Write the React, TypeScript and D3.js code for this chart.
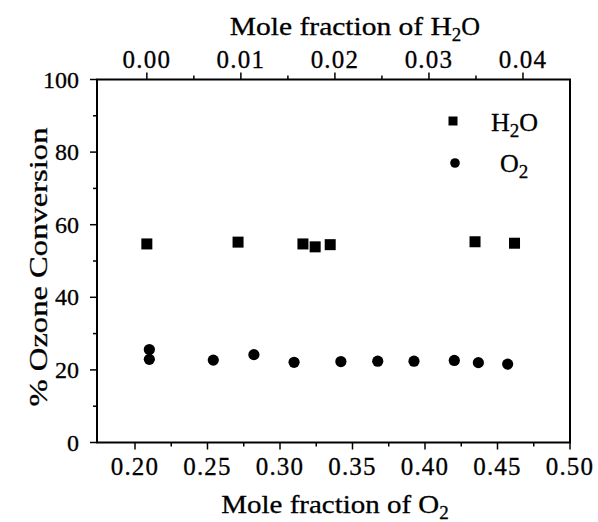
import React from "react";
import * as d3 from "d3";

const h2oX = [0.0, 0.0097, 0.0166, 0.0179, 0.0195, 0.0349, 0.0391];
const h2oY = [54.7, 55.2, 54.7, 53.9, 54.5, 55.3, 54.9];

const o2X = [0.2099, 0.2099, 0.254, 0.282, 0.3097, 0.342, 0.3674, 0.3924, 0.4202, 0.4368, 0.457];
const o2Y = [25.6, 22.9, 22.7, 24.2, 22.1, 22.3, 22.4, 22.4, 22.6, 22.0, 21.6];

const bottomTicks = [0.2, 0.25, 0.3, 0.35, 0.4, 0.45, 0.5];
const bottomMinor = [0.225, 0.275, 0.325, 0.375, 0.425, 0.475];
const topTicks = [0.0, 0.01, 0.02, 0.03, 0.04];
const topMinor = [0.005, 0.015, 0.025, 0.035];
const yTicks = [0, 20, 40, 60, 80, 100];
const yMinor = [10, 30, 50, 70, 90];

const W = 598;
const H = 522;
const L = 97;
const R = 570;
const T = 79.5;
const B = 442.5;
const FONT = "'Liberation Serif', 'Times New Roman', serif";
const TS = { stroke: "#000", strokeWidth: 0.3 };

export default function App() {
  const xO2 = d3.scaleLinear().domain([0.1738, 0.5]).range([L, R]);
  const xH2O = d3.scaleLinear().domain([-0.0053, 0.045]).range([L, R]);
  const y = d3.scaleLinear().domain([0, 100]).range([B, T]);
  const fmt2 = d3.format(".2f");
  const sq = 11;
  const cr = 5.6;

  return (
    <svg
      width={W}
      height={H}
      style={{ position: "absolute", left: 0, top: 0, background: "#fff" }}
      fontFamily={FONT}
    >
      <rect x={0} y={0} width={W} height={H} fill="#fff" />
      {/* frame */}
      <rect x={L} y={T} width={R - L} height={B - T} fill="none" stroke="#000" strokeWidth={2} />

      {/* bottom axis */}
      {bottomTicks.map((t) => (
        <g key={"b" + t}>
          <line x1={xO2(t)} x2={xO2(t)} y1={B} y2={B + 7} stroke="#000" strokeWidth={1.5} />
          <text x={xO2(t)} y={475} textAnchor="middle" fontSize={25} letterSpacing={1.2} fill="#000" {...TS}>
            {fmt2(t)}
          </text>
        </g>
      ))}
      {bottomMinor.map((t) => (
        <line key={"bm" + t} x1={xO2(t)} x2={xO2(t)} y1={B} y2={B + 4} stroke="#000" strokeWidth={1.5} />
      ))}
      <text x={335} y={513} textAnchor="middle" fontSize={26} fill="#000" {...TS}>
        <tspan textLength={218} lengthAdjust="spacingAndGlyphs">Mole fraction of O</tspan>
        <tspan fontSize={19} dy={6}>2</tspan>
      </text>

      {/* top axis */}
      {topTicks.map((t) => (
        <g key={"t" + t}>
          <line x1={xH2O(t)} x2={xH2O(t)} y1={T} y2={T - 7} stroke="#000" strokeWidth={1.5} />
          <text x={xH2O(t)} y={68} textAnchor="middle" fontSize={25} letterSpacing={1.2} fill="#000" {...TS}>
            {fmt2(t)}
          </text>
        </g>
      ))}
      {topMinor.map((t) => (
        <line key={"tm" + t} x1={xH2O(t)} x2={xH2O(t)} y1={T} y2={T - 4} stroke="#000" strokeWidth={1.5} />
      ))}
      <text x={355} y={35} textAnchor="middle" fontSize={26} fill="#000" {...TS}>
        <tspan textLength={222} lengthAdjust="spacingAndGlyphs">Mole fraction of H</tspan>
        <tspan fontSize={19} dy={6}>2</tspan>
        <tspan dy={-6}>O</tspan>
      </text>

      {/* left axis */}
      {yTicks.map((t) => (
        <g key={"y" + t}>
          <line x1={L} x2={L - 7} y1={y(t)} y2={y(t)} stroke="#000" strokeWidth={1.5} />
          <text x={79} y={y(t) + 8} textAnchor="end" fontSize={24} fill="#000" {...TS}>
            {t}
          </text>
        </g>
      ))}
      {yMinor.map((t) => (
        <line key={"ym" + t} x1={L} x2={L - 4} y1={y(t)} y2={y(t)} stroke="#000" strokeWidth={1.5} />
      ))}
      <text
        transform={`translate(47, 267) rotate(-90)`}
        textAnchor="middle"
        fontSize={26}
        fill="#000"
        textLength={279}
        lengthAdjust="spacingAndGlyphs"
        {...TS}
      >
        % Ozone Conversion
      </text>

      {/* data */}
      {h2oX.map((v, i) => (
        <rect
          key={"h" + i}
          x={xH2O(v) - sq / 2}
          y={y(h2oY[i]) - sq / 2}
          width={sq}
          height={sq}
          fill="#000"
        />
      ))}
      {o2X.map((v, i) => (
        <circle key={"o" + i} cx={xO2(v)} cy={y(o2Y[i])} r={cr} fill="#000" />
      ))}

      {/* legend */}
      <rect x={453 - 4.5} y={121 - 4.5} width={9} height={9} fill="#000" />
      <text x={491} y={131} fontSize={26} fill="#000" {...TS}>
        H<tspan fontSize={19} dy={6}>2</tspan>
        <tspan dy={-6}>O</tspan>
      </text>
      <circle cx={455} cy={163} r={4.8} fill="#000" />
      <text x={500} y={172} fontSize={26} fill="#000" {...TS}>
        O<tspan fontSize={19} dy={6}>2</tspan>
      </text>
    </svg>
  );
}
